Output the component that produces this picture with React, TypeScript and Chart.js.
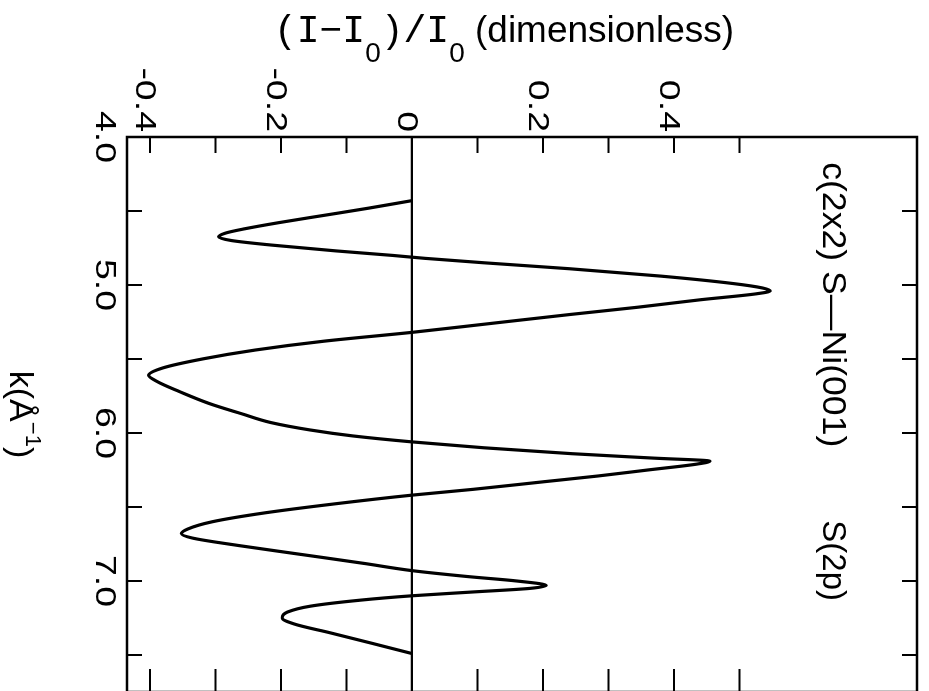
import { useEffect, useRef } from "react";
import { Chart, registerables } from "chart.js";

Chart.register(...registerables);

// Photoelectron diffraction curve for c(2x2) S–Ni(001), S(2p) level
const kValues = [
  4.43, 4.48, 4.53, 4.58, 4.62, 4.65, 4.675, 4.7, 4.73, 4.77, 4.8, 4.82, 4.85, 4.89, 4.94, 4.99,
  5.02, 5.04, 5.06, 5.1, 5.15, 5.2, 5.26, 5.32, 5.38, 5.44, 5.5, 5.56, 5.61, 5.65, 5.72, 5.8,
  5.87, 5.93, 5.98, 6.02, 6.06, 6.1, 6.14, 6.17, 6.19, 6.21, 6.25, 6.29, 6.33, 6.38, 6.42, 6.48,
  6.54, 6.6, 6.65, 6.68, 6.71, 6.76, 6.82, 6.88, 6.93, 6.97, 7.0, 7.03, 7.05, 7.075, 7.1, 7.13,
  7.17, 7.21, 7.25, 7.29, 7.35, 7.42, 7.49,
];
const ratioValues = [
  0.0, -0.065, -0.135, -0.205, -0.255, -0.285, -0.295, -0.275, -0.215, -0.115, -0.03, 0.02, 0.11, 0.24, 0.38, 0.49,
  0.535, 0.547, 0.525, 0.44, 0.345, 0.24, 0.12, 0.0, -0.135, -0.24, -0.32, -0.38, -0.402, -0.39, -0.355, -0.31,
  -0.26, -0.215, -0.155, -0.09, 0.0, 0.11, 0.245, 0.37, 0.455, 0.435, 0.36, 0.285, 0.2, 0.095, 0.0, -0.12,
  -0.225, -0.305, -0.343, -0.352, -0.335, -0.265, -0.17, -0.075, 0.0, 0.085, 0.16, 0.205, 0.18, 0.09, 0.0, -0.08,
  -0.155, -0.19, -0.198, -0.18, -0.125, -0.062, 0.0,
];

const kRange = [4.0, 7.75];
const ratioRange = [-0.435, 0.771];
const kTickValues = [4.5, 5.0, 5.5, 6.0, 6.5, 7.0, 7.5];
const kTickLabels = ["4.0", "5.0", "6.0", "7.0"];
const ratioTickValues = [-0.4, -0.3, -0.2, -0.1, 0, 0.1, 0.2, 0.3, 0.4, 0.5];
const ratioTickLabels = ["-0.4", "-0.2", "0", "0.2", "0.4"];

const systemLabel = "c(2x2) S\u2014Ni(001)";
const levelLabel = "S(2p)";

const SANS = '"Liberation Sans", Arial, sans-serif';
const MONO = '"Liberation Mono", "Courier New", monospace';

// Canvas is drawn with k running left-to-right, then turned a quarter clockwise.
const CANVAS_W = 700;
const CANVAS_H = 929;

const framePlugin = {
  id: "frameAndText",
  afterDraw(chart: any) {
    const { ctx, chartArea: a, scales } = chart;
    const xs = scales.x;
    const ys = scales.y;
    ctx.save();
    ctx.strokeStyle = "#000";
    ctx.fillStyle = "#000";
    ctx.lineWidth = 2.5;
    ctx.lineCap = "butt";
    ctx.strokeRect(a.left, a.top, a.right - a.left, a.bottom - a.top);

    ctx.lineWidth = 2;
    ctx.beginPath();
    for (const k of kTickValues) {
      const px = xs.getPixelForValue(k);
      ctx.moveTo(px, a.bottom);
      ctx.lineTo(px, a.bottom - 15);
      ctx.moveTo(px, a.top);
      ctx.lineTo(px, a.top + 15);
    }
    for (const v of ratioTickValues) {
      const py = ys.getPixelForValue(v);
      ctx.moveTo(a.left, py);
      ctx.lineTo(a.left + 16, py);
      ctx.moveTo(a.right, py);
      ctx.lineTo(a.right - 23, py);
    }
    ctx.stroke();

    // k tick labels
    const tickSize = 30;
    ctx.font = `${tickSize}px ${SANS}`;
    ctx.textBaseline = "alphabetic";
    for (const lab of kTickLabels) {
      const px = xs.getPixelForValue(parseFloat(lab));
      ctx.save();
      ctx.translate(px, a.bottom + 9 + tickSize * 0.72);
      ctx.scale(1.25, 1);
      ctx.textAlign = "center";
      ctx.fillText(lab, 0, 0);
      ctx.restore();
    }
    // ratio tick labels
    for (const lab of ratioTickLabels) {
      const py = ys.getPixelForValue(parseFloat(lab));
      ctx.save();
      ctx.translate(a.left - 5, py + tickSize * 0.36 + 3);
      ctx.scale(1.25, 1);
      ctx.textAlign = "right";
      ctx.fillText(lab, 0, 0);
      ctx.restore();
    }

    // k axis title: k(Å^-1)
    {
      const big = 34;
      const sup = 22;
      ctx.textAlign = "left";
      ctx.font = `${big}px ${SANS}`;
      const w1 = ctx.measureText("k(\u00c5").width;
      const w3 = ctx.measureText(")").width;
      ctx.font = `${sup}px ${SANS}`;
      const w2 = ctx.measureText("\u22121").width;
      const total = w1 + w2 + w3;
      const cx = (a.left + a.right) / 2;
      const base = a.bottom + 117;
      let x = cx - total / 2;
      ctx.font = `${big}px ${SANS}`;
      ctx.fillText("k(\u00c5", x, base);
      x += w1;
      ctx.font = `${sup}px ${SANS}`;
      ctx.fillText("\u22121", x, base - 16);
      x += w2;
      ctx.font = `${big}px ${SANS}`;
      ctx.fillText(")", x, base);
    }

    // ratio axis title, reading along the axis
    {
      const runs: [string, string, number, number][] = [
        ["(I\u2212I", MONO, 38, 0],
        ["0", SANS, 28, 20],
        [")/I", MONO, 38, 0],
        ["0", SANS, 28, 20],
        [" (dimensionless)", SANS, 37, 0],
      ];
      let total = 0;
      const widths: number[] = [];
      for (const [t, f, s] of runs) {
        ctx.font = `${s}px ${f}`;
        const w = ctx.measureText(t).width;
        widths.push(w);
        total += w;
      }
      ctx.save();
      ctx.translate(42, (a.top + a.bottom) / 2 + 18);
      ctx.rotate(-Math.PI / 2);
      ctx.textAlign = "left";
      let x = -total / 2;
      runs.forEach(([t, f, s, dy], i) => {
        ctx.font = `${s}px ${f}`;
        ctx.fillText(t, x, dy);
        x += widths[i];
      });
      ctx.restore();
    }

    // system and core level annotation
    ctx.font = `33px ${SANS}`;
    ctx.textAlign = "left";
    const base = ys.getPixelForValue(0.627);
    ctx.save();
    ctx.translate(xs.getPixelForValue(4.17), base);
    ctx.scale(1.08, 1);
    ctx.fillText(systemLabel, 0, 0);
    ctx.restore();
    ctx.fillText(levelLabel, xs.getPixelForValue(6.59), base);
    ctx.restore();
  },
};

export default function App() {
  const canvasRef = useRef<HTMLCanvasElement | null>(null);

  useEffect(() => {
    const canvas = canvasRef.current;
    if (!canvas) return;
    const curve = kValues.map((k, i) => ({ x: k, y: ratioValues[i] }));
    const baseline = [
      { x: kRange[0], y: 0 },
      { x: kRange[1], y: 0 },
    ];
    const chart = new Chart(canvas, {
      type: "line",
      data: {
        datasets: [
          {
            data: curve,
            borderColor: "#000",
            borderWidth: 3.2,
            pointRadius: 0,
            cubicInterpolationMode: "monotone",
            fill: false,
          },
          {
            data: baseline,
            borderColor: "#000",
            borderWidth: 2.2,
            pointRadius: 0,
            fill: false,
          },
        ],
      },
      options: {
        responsive: false,
        animation: false,
        devicePixelRatio: 1,
        layout: { padding: { left: 137, right: 8, top: 12, bottom: 127 } },
        scales: {
          x: { type: "linear", min: kRange[0], max: kRange[1], display: false },
          y: { type: "linear", min: ratioRange[0], max: ratioRange[1], display: false },
        },
        plugins: { legend: { display: false }, tooltip: { enabled: false } },
        events: [],
      },
      plugins: [framePlugin],
    });
    return () => chart.destroy();
  }, []);

  return (
    <div
      style={{
        position: "fixed",
        left: 0,
        top: 0,
        width: 929,
        height: 691,
        overflow: "hidden",
        background: "#fff",
      }}
    >
      <div
        style={{
          position: "absolute",
          left: 0,
          top: 0,
          width: CANVAS_W,
          height: CANVAS_H,
          transformOrigin: "0 0",
          transform: `translate(${CANVAS_H}px, 0px) rotate(90deg)`,
        }}
      >
        <canvas
          ref={canvasRef}
          width={CANVAS_W}
          height={CANVAS_H}
          style={{ width: CANVAS_W, height: CANVAS_H, display: "block" }}
        />
      </div>
    </div>
  );
}
